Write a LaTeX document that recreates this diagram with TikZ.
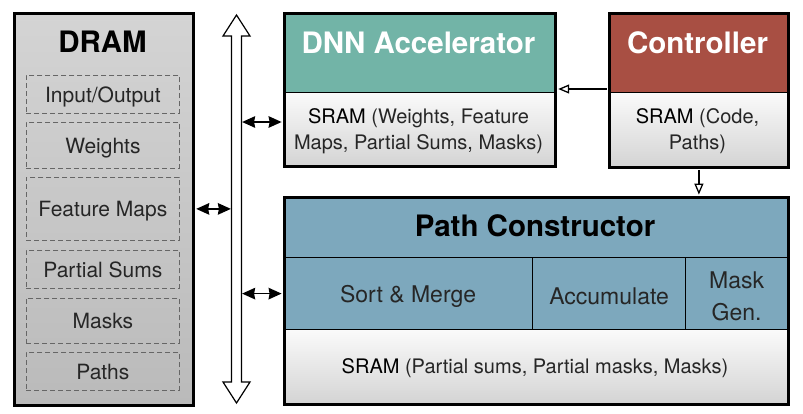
\documentclass[tikz,border=0pt]{standalone}
\usepackage{fontspec}
\setmainfont{TeX Gyre Heros}
\usetikzlibrary{arrows.meta}
\definecolor{tealc}{HTML}{72B4A7}
\definecolor{redc}{HTML}{A84F43}
\definecolor{bluec}{HTML}{7DA8BD}
\definecolor{dramtop}{HTML}{D4D4D4}
\definecolor{drambot}{HTML}{BABABA}
\definecolor{sramtop}{HTML}{FAFAFA}
\definecolor{srambot}{HTML}{D4D4D4}
\definecolor{dashgray}{HTML}{666666}
\definecolor{txt}{HTML}{262626}
\tikzset{
  frame/.style={draw=black, line width=2.8pt, inner sep=0pt, anchor=north west},
  part/.style={draw=black, line width=1.2pt, inner sep=0pt, anchor=north west},
  sram/.style={top color=sramtop, bottom color=srambot},
  ttl/.style={font=\fontsize{29.5}{32}\selectfont\bfseries},
  lbl/.style={font=\fontsize{20}{25.5}\selectfont, text=txt, align=center},
  cell/.style={font=\fontsize{23}{32}\selectfont, text=txt, align=center},
  mem/.style={draw=dashgray, line width=0.8pt, dash pattern=on 5pt off 3pt,
    minimum width=153pt, inner sep=0pt, anchor=north west, text depth=0pt,
    font=\fontsize{21}{24}\selectfont, text=txt},
  biarrow/.style={{Stealth[length=13pt,width=11.5pt,inset=1pt]}-{Stealth[length=13pt,width=11.5pt,inset=1pt]}, line width=1.6pt},
  ctlarrow/.style={-{Triangle[open,length=11pt,width=9pt]}, line width=1.3pt},
  busstyle/.style={draw=black, line width=1.2pt, fill=white, line join=miter},
}
\begin{document}
\begin{tikzpicture}[x=1pt,y=-1pt]
\useasboundingbox (0,0) rectangle (803,413);

% DRAM
\node[frame, top color=dramtop, bottom color=drambot, minimum width=179pt, minimum height=392pt] (dram) at (13,12) {};
\node[ttl] (dramttl) at (102.5,42) {DRAM};
\node[mem, minimum height=38pt] (io) at (26,75) {Input/Output};
\node[mem, minimum height=46pt] (wt) at (26,122) {Weights};
\node[mem, minimum height=63pt] (fm) at (26,177) {Feature Maps};
\node[mem, minimum height=38pt] (ps) at (26,250) {Partial Sums};
\node[mem, minimum height=45pt] (mk) at (26,298) {Masks};
\node[mem, minimum height=38pt] (pt) at (26,352) {Paths};

% Bus
\draw[busstyle] (236.5,15) -- (250,36) -- (241.5,36) -- (241.5,382) -- (250,382)
  -- (236.5,403) -- (223,382) -- (231.5,382) -- (231.5,36) -- (223,36) -- cycle;
\coordinate (busL) at (231.5,208);
\coordinate (busR) at (241.5,208);

% DNN Accelerator
\node[part, fill=tealc, minimum width=271pt, minimum height=80pt] (dnnt) at (283,12) {};
\node[part, sram, minimum width=271pt, minimum height=73pt] (dnns) at (283,92) {};
\node[frame, minimum width=271pt, minimum height=153pt] (dnn) at (283,12) {};
\node[ttl, text=white] (dnnttl) at (418.5,43) {DNN Accelerator};
\node[lbl] (dnnlbl) at (418.5,131) {\textcolor{black}{SRAM} (Weights, Feature\\Maps, Partial Sums, Masks)};

% Controller
\node[part, fill=redc, minimum width=179pt, minimum height=80pt] (ctlt) at (608,12) {};
\node[part, sram, minimum width=179pt, minimum height=74pt] (ctls) at (608,92) {};
\node[frame, minimum width=179pt, minimum height=154pt] (ctl) at (608,12) {};
\node[ttl, text=white] (ctlttl) at (697.5,43) {Controller};
\node[lbl] (ctllbl) at (697.5,131) {\textcolor{black}{SRAM} (Code,\\Paths)};

% Path Constructor
\node[part, fill=bluec, minimum width=504pt, minimum height=61pt] (pct) at (283,196) {};
\node[part, fill=bluec, minimum width=249pt, minimum height=72pt] (sm) at (283,257) {};
\node[part, fill=bluec, minimum width=153pt, minimum height=72pt] (acc) at (532,257) {};
\node[part, fill=bluec, minimum width=102pt, minimum height=72pt] (mg) at (685,257) {};
\node[part, sram, minimum width=504pt, minimum height=74pt] (pcs) at (283,329) {};
\node[frame, minimum width=504pt, minimum height=207pt] (pc) at (283,196) {};
\node[ttl] (pcttl) at (535,226) {Path Constructor};
\node[cell] (smlbl) at ([yshift=-3pt]sm.center) {Sort \& Merge};
\node[cell] (acclbl) at ([yshift=-3pt]acc.center) {Accumulate};
\node[cell] (mglbl) at ([yshift=-3pt]mg.center) {Mask\\Gen.};
\node[lbl] (pcslbl) at (535,368) {\textcolor{black}{SRAM} (Partial sums, Partial masks, Masks)};

% Connectors
\draw[biarrow, shorten <=1.4pt, shorten >=0.6pt] (dram.east |- fm.center) -- (busL |- fm.center);
\draw[biarrow, shorten <=0.6pt, shorten >=1.4pt] (busR |- 0,122) -- (dnn.west |- 0,122);
\draw[biarrow, shorten <=0.6pt, shorten >=1.4pt] (busR |- sm.west) -- (pc.west |- sm.west);
\draw[ctlarrow, shorten <=1.4pt, shorten >=1.4pt] (ctl.west |- 0,89) -- (dnn.east |- 0,89);
\draw[ctlarrow, shorten <=1.4pt, shorten >=1.4pt] (ctl.south) -- (ctl.south |- pc.north);
\end{tikzpicture}
\end{document}
